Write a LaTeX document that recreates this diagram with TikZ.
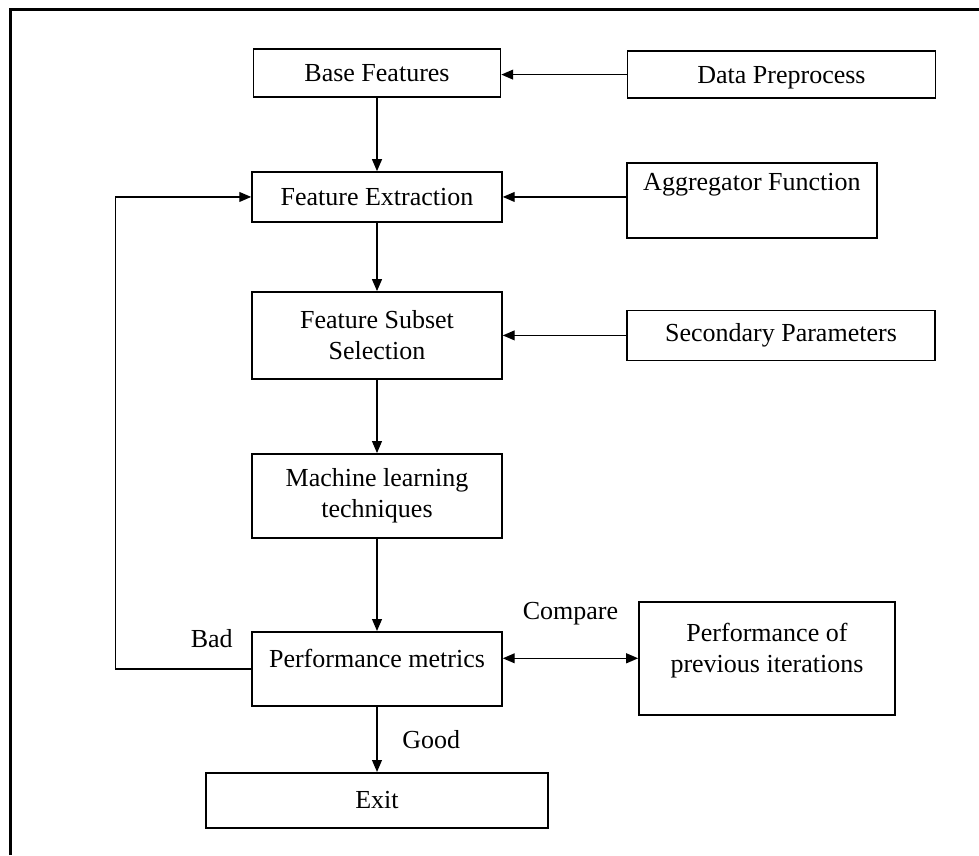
\documentclass[tikz,border=0pt]{standalone}
\usepackage{fontspec}
\setmainfont{Liberation Serif}
\usepackage{tikz}
\usetikzlibrary{positioning,arrows.meta}

\begin{document}
\begin{tikzpicture}[
node distance=1.8cm,
box/.style={draw=black, line width=1.1pt, minimum width=6.25cm, minimum height=1.25cm, align=center, font=\fontsize{18.5}{22}\selectfont},
lbl/.style={font=\fontsize{18.5}{22}\selectfont},
arrow/.style={-{Triangle[length=8.5pt, width=7pt]}, line width=1pt},
both/.style={{Triangle[length=8.5pt, width=7pt]}-{Triangle[length=8.5pt, width=7pt]}, line width=1pt}
]
\useasboundingbox (0,0) rectangle (24.475,-21.375);
\draw[line width=2.8pt] (0.2625,-21.375) -- (0.2625,-0.2375) -- (24.475,-0.2375);
\node[box, minimum width=6.175cm, minimum height=1.2cm] (base) at (9.425,-1.825) {Base Features};
\node[box, below=1.835cm of base] (extr) {Feature Extraction};
\node[box, below=1.71cm of extr, minimum height=2.175cm] (subset) {Feature Subset\\Selection};
\node[box, below=1.835cm of subset, minimum height=2.1cm] (mlt) {Machine learning\\techniques};
\node[box, below=2.31cm of mlt, minimum height=1.85cm, text depth=15.5pt] (perf) {Performance metrics};
\node[box, below=1.635cm of perf, minimum width=8.55cm, minimum height=1.375cm] (exit) {Exit};
\node[box, right=3.135cm of base, minimum width=7.7cm, minimum height=1.175cm, yshift=-0.04cm, text depth=0pt] (prep) {Data Preprocess};
\node[box, right=3.085cm of extr, minimum height=1.875cm, yshift=-0.0875cm, text depth=26pt] (aggr) {Aggregator Function};
\node[box, right=3.085cm of subset, minimum width=7.7cm] (second) {Secondary Parameters};
\node[box, right=3.385cm of perf, minimum width=6.4cm, minimum height=2.825cm, yshift=0.2625cm] (prev) {Performance of\\previous iterations\\[-7.4pt]~};
\draw[arrow] (prep.west) -- (base.east |- prep.west);
\draw[arrow] (base) -- (extr);
\draw[arrow] (aggr.west |- extr.east) -- (extr.east);
\draw[arrow] (extr) -- (subset);
\draw[arrow] (second) -- (subset);
\draw[arrow] (subset) -- (mlt);
\draw[arrow] (mlt) -- (perf);
\draw[arrow] (perf) -- node[lbl, right=0.5cm] {Good} (exit);
\draw[both] (prev.west -| perf.east) -- node[lbl, above=0.7cm] {Compare} (prev.west);
\draw[arrow] (perf.west) -- node[lbl, above=0.38cm, pos=0.29] {Bad} ++(-3.4,0) |- (extr.west);
\end{tikzpicture}
\end{document}
